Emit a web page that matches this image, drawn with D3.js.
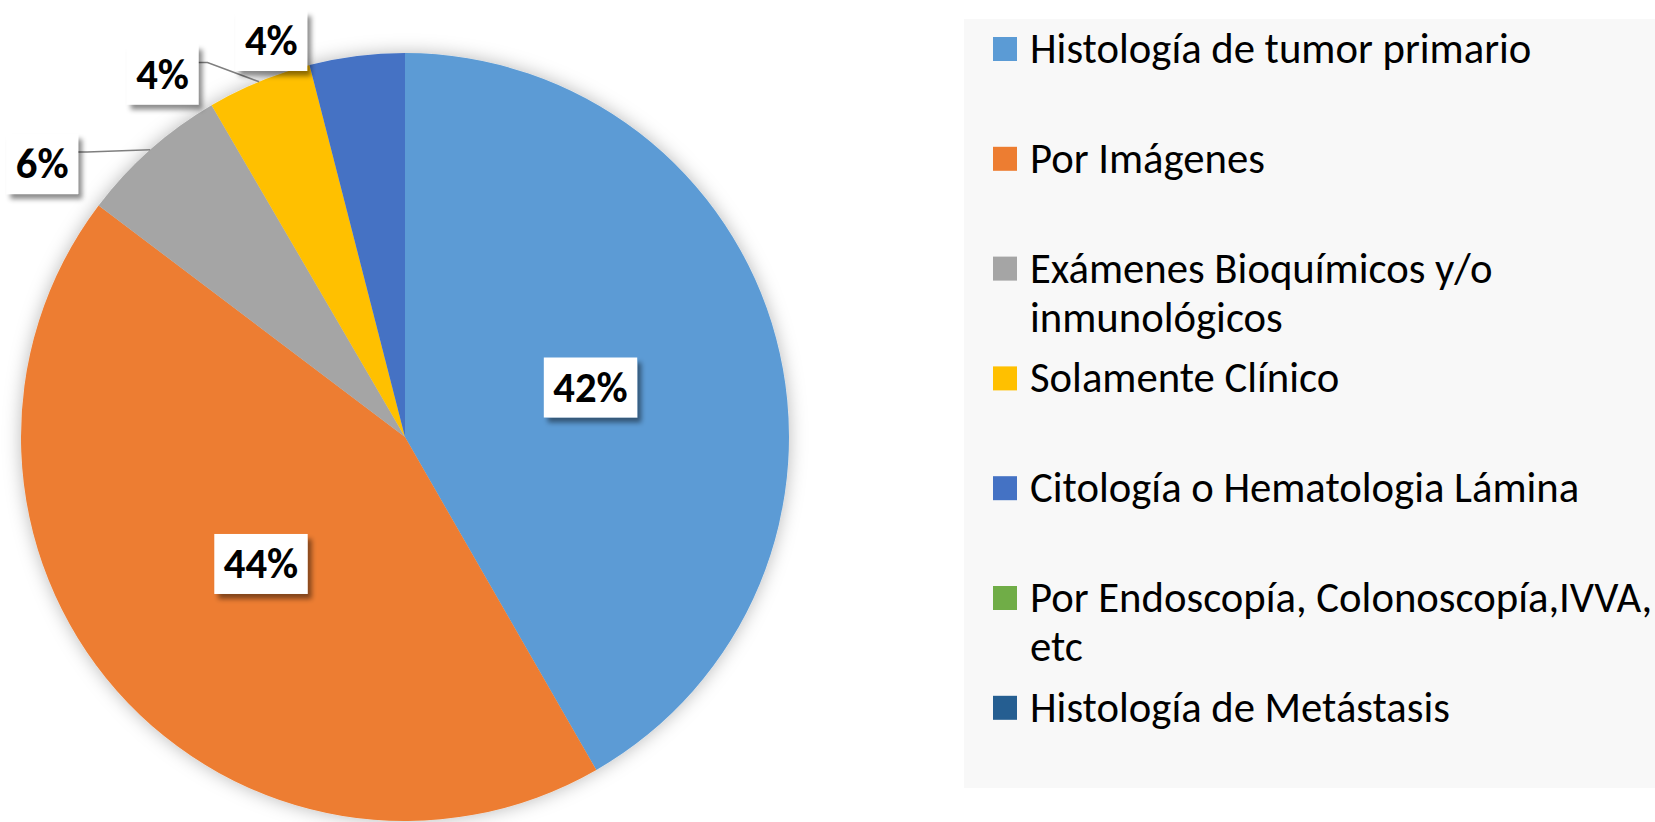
<!DOCTYPE html>
<html>
<head>
<meta charset="utf-8">
<script src="https://cdn.jsdelivr.net/npm/d3@7"></script>
<style>
  body { margin: 0; background: #fff; }
  text { font-family: Carlito, Lato, sans-serif; }
</style>
</head>
<body>
<div id="chart"></div>
<script>
// chart data: share of cases by diagnosis method (percent)
let categories = [
  "Histología de tumor primario",
  "Por Imágenes",
  "Exámenes Bioquímicos y/o inmunológicos",
  "Solamente Clínico",
  "Citología o Hematologia Lámina",
  "Por Endoscopía, Colonoscopía,IVVA, etc",
  "Histología de Metástasis"
];
let values = [41.7, 43.6, 6.3, 4.4, 4.0, 0, 0];
let colors = ["#5B9BD5", "#ED7D31", "#A5A5A5", "#FFC000", "#4472C4", "#70AD47", "#255E91"];

let width = 1655, height = 822;
let cx = 405, cy = 437, radius = 384;
let fontSize = 42.7;

let svg = d3.select('#chart')
  .append('svg')
  .attr('width', width)
  .attr('height', height)
  .style('background-color', 'white');

let defs = svg.append('defs');
defs.append('filter').attr('id', 'pieShadow')
  .attr('x', '-10%').attr('y', '-10%').attr('width', '120%').attr('height', '120%')
  .append('feDropShadow')
  .attr('dx', 0).attr('dy', 0).attr('stdDeviation', 9)
  .attr('flood-color', '#000').attr('flood-opacity', 0.28);
defs.append('filter').attr('id', 'boxShadow')
  .attr('x', '-20%').attr('y', '-20%').attr('width', '150%').attr('height', '150%')
  .append('feDropShadow')
  .attr('dx', 4).attr('dy', 5).attr('stdDeviation', 2.5)
  .attr('flood-color', '#000').attr('flood-opacity', 0.45);

let data = categories.map((c, i) => ({ name: c, value: values[i], color: colors[i] }));

let pie = d3.pie().sort(null).value(d => d.value);
let arcs = pie(data);
let arc = d3.arc().innerRadius(0).outerRadius(radius);

let g = svg.append('g').attr('transform', `translate(${cx}, ${cy})`);

g.append('g')
  .attr('filter', 'url(#pieShadow)')
  .selectAll('path')
  .data(arcs.filter(d => d.value > 0))
  .join('path')
  .attr('d', arc)
  .attr('fill', d => d.data.color);

// data labels: big slices inside, small ones outside with leader lines
let fmt = d3.format('.0%');
let shown = arcs.filter(d => d.value > 0);
let small = shown.filter(d => d.value < 10);
let labelG = g.append('g');

shown.forEach(d => {
  let mid = (d.startAngle + d.endAngle) / 2;
  let lx, ly, outside = d.value < 10, k = 0;
  if (!outside) {
    [lx, ly] = arc.centroid(d);
  } else {
    k = small.length - 1 - small.indexOf(d);
    let a = mid - 0.2;
    let dist = radius + 34 + 18 * k;
    lx = dist * Math.sin(a);
    ly = -dist * Math.cos(a);
  }
  let lg = labelG.append('g');
  let rect = lg.append('rect').attr('fill', 'white').attr('filter', 'url(#boxShadow)');
  let txt = lg.append('text')
    .attr('x', lx).attr('y', ly).attr('dy', '0.33em')
    .attr('text-anchor', 'middle')
    .style('font-size', fontSize + 'px').style('font-weight', 'bold').style('fill', '#000')
    .text(fmt(d.value / 100));
  let tw = txt.node().getComputedTextLength();
  let bw = tw + 19, bh = 60;
  rect.attr('x', lx - bw / 2).attr('y', ly - bh / 2).attr('width', bw).attr('height', bh);

  if (outside && k > 0) {
    let ax = radius * Math.sin(mid), ay = -radius * Math.cos(mid);
    let bx = lx + bw / 2, by = ly - 12;
    labelG.insert('path', ':first-child')
      .attr('d', `M${bx},${by}L${bx + 9},${by}L${ax},${ay}`)
      .attr('fill', 'none').attr('stroke', '#7f7f7f').attr('stroke-width', 1.5);
  }
});

// legend
let legend = svg.append('g');
legend.append('rect')
  .attr('x', 964).attr('y', 19).attr('width', 691).attr('height', 769)
  .attr('fill', '#f8f8f8');

let rowStep = 109.8, lineH = 49, textX = 1030, maxW = 625;
data.forEach((d, i) => {
  let top = 37 + i * rowStep;
  legend.append('rect')
    .attr('x', 993).attr('y', top).attr('width', 24).attr('height', 24)
    .attr('fill', d.color);
  let t = legend.append('text')
    .attr('x', textX).attr('y', top + 26)
    .style('font-size', fontSize + 'px').style('fill', '#000');
  let words = d.name.split(' ');
  let line = [], tspan = t.append('tspan').attr('x', textX).attr('dy', 0);
  let fit = s => {
    if (s.node().getComputedTextLength() > maxW) {
      s.attr('textLength', maxW).attr('lengthAdjust', 'spacingAndGlyphs');
    }
  };
  words.forEach(w => {
    line.push(w);
    tspan.text(line.join(' '));
    if (tspan.node().getComputedTextLength() > maxW + 30 && line.length > 1) {
      line.pop();
      tspan.text(line.join(' '));
      fit(tspan);
      line = [w];
      tspan = t.append('tspan').attr('x', textX).attr('dy', lineH).text(w);
    }
  });
  fit(tspan);
});
</script>
</body>
</html>
